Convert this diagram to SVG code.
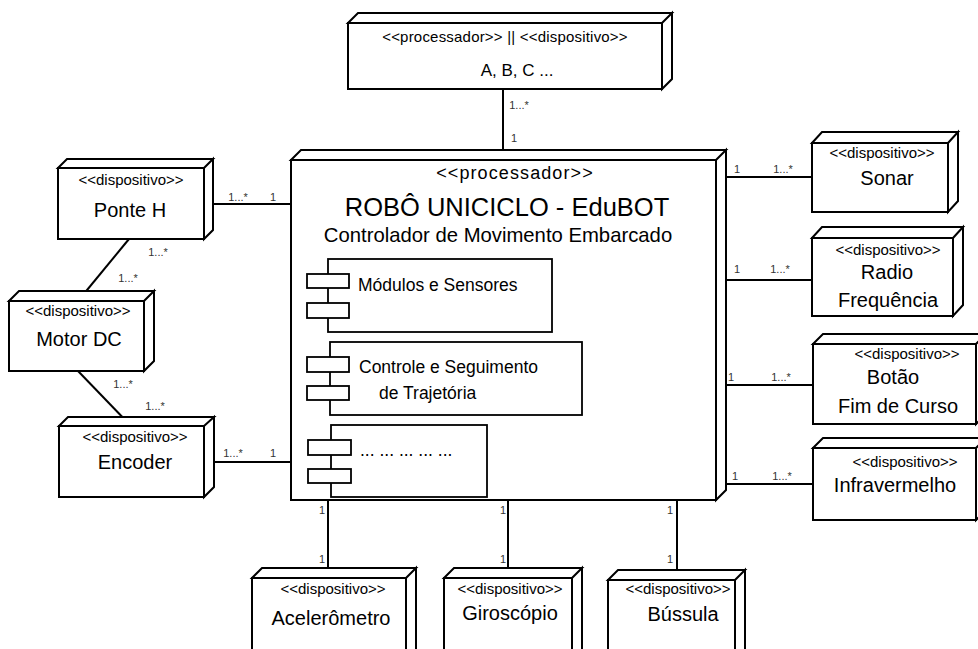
<svg xmlns="http://www.w3.org/2000/svg" width="978" height="649" viewBox="0 0 978 649">
  <style>
    .node { fill: #fff; stroke: #000; stroke-width: 2; stroke-linejoin: miter; }
    .comp { fill: #fff; stroke: #000; stroke-width: 1.8; }
    .edge { stroke: #000; stroke-width: 2; fill: none; }
    text { font-family: "Liberation Sans", Arial, Helvetica, sans-serif; fill: #000; }
    .st { font-size: 15px; text-anchor: middle; }
    .nm { font-size: 20px; text-anchor: middle; }
    .mul { font-size: 11px; fill: #333; text-anchor: middle; }
    .ct { font-size: 17.5px; }
  </style>

  <rect width="978" height="649" fill="#fff"/>

  <!-- connectors -->
  <g id="connectors">
    <line class="edge" x1="503" y1="89" x2="503" y2="160"/>
    <line class="edge" x1="204" y1="204" x2="291" y2="204"/>
    <line class="edge" x1="129" y1="239" x2="78" y2="301"/>
    <line class="edge" x1="78" y1="371" x2="131" y2="426"/>
    <line class="edge" x1="204" y1="462" x2="291" y2="462"/>
    <line class="edge" x1="716" y1="177" x2="812" y2="177"/>
    <line class="edge" x1="716" y1="280" x2="812" y2="280"/>
    <line class="edge" x1="716" y1="385" x2="813" y2="385"/>
    <line class="edge" x1="716" y1="484" x2="813" y2="484"/>
    <line class="edge" x1="328" y1="500" x2="328" y2="578"/>
    <line class="edge" x1="508" y1="500" x2="508" y2="578"/>
    <line class="edge" x1="677" y1="500" x2="677" y2="580"/>

    <!-- multiplicities -->
    <text class="mul" x="519" y="109">1...*</text>
    <text class="mul" x="514" y="142">1</text>
    <text class="mul" x="238" y="201">1...*</text>
    <text class="mul" x="273" y="201">1</text>
    <text class="mul" x="158" y="256">1...*</text>
    <text class="mul" x="128" y="282">1...*</text>
    <text class="mul" x="123" y="388">1...*</text>
    <text class="mul" x="155" y="410">1...*</text>
    <text class="mul" x="233" y="457">1...*</text>
    <text class="mul" x="273" y="457">1</text>
    <text class="mul" x="737" y="173">1</text>
    <text class="mul" x="783" y="173">1...*</text>
    <text class="mul" x="737" y="273">1</text>
    <text class="mul" x="780" y="273">1...*</text>
    <text class="mul" x="731" y="381">1</text>
    <text class="mul" x="781" y="381">1...*</text>
    <text class="mul" x="735" y="480">1</text>
    <text class="mul" x="782" y="480">1...*</text>
    <text class="mul" x="322" y="514">1</text>
    <text class="mul" x="322" y="563">1</text>
    <text class="mul" x="503" y="514">1</text>
    <text class="mul" x="503" y="563">1</text>
    <text class="mul" x="670" y="514">1</text>
    <text class="mul" x="670" y="563">1</text>
  </g>

  <!-- top processor/device node -->
  <g id="node-abc">
    <path class="node" d="M348,23 L358,13 L672,13 L662,23 Z M662,23 L672,13 L672,79 L662,89 Z"/>
    <rect class="node" x="348" y="23" width="314" height="66"/>
    <text class="st" x="505" y="42" letter-spacing="0.2">&lt;&lt;processador&gt;&gt; || &lt;&lt;dispositivo&gt;&gt;</text>
    <text x="517" y="76" font-size="17" text-anchor="middle">A, B, C ...</text>
  </g>

  <!-- main controller node -->
  <g id="node-edubot">
    <path class="node" d="M291,160 L301,150 L726,150 L716,160 Z M716,160 L726,150 L726,490 L716,500 Z"/>
    <rect class="node" x="291" y="160" width="425" height="340"/>
    <text x="515" y="179" font-size="18" text-anchor="middle" letter-spacing="1.1">&lt;&lt;processador&gt;&gt;</text>
    <text x="507" y="216" font-size="25.5" text-anchor="middle">ROBÔ UNICICLO - EduBOT</text>
    <text x="498" y="242" font-size="20.3" text-anchor="middle">Controlador de Movimento Embarcado</text>

    <g id="comp-modulos">
      <rect class="comp" x="328" y="259" width="224" height="73"/>
      <rect class="comp" x="307" y="274" width="42" height="14"/>
      <rect class="comp" x="307" y="303" width="42" height="15"/>
      <text class="ct" x="358" y="291">Módulos e Sensores</text>
    </g>
    <g id="comp-controle">
      <rect class="comp" x="330" y="342" width="252" height="73"/>
      <rect class="comp" x="307" y="357" width="42" height="15"/>
      <rect class="comp" x="307" y="386" width="42" height="14"/>
      <text class="ct" x="359" y="373">Controle e Seguimento</text>
      <text class="ct" x="379" y="399">de Trajetória</text>
    </g>
    <g id="comp-outros">
      <rect class="comp" x="331" y="425" width="156" height="72"/>
      <rect class="comp" x="308" y="440" width="43" height="15"/>
      <rect class="comp" x="308" y="469" width="43" height="14"/>
      <text class="ct" x="360" y="456">... ... ... ... ...</text>
    </g>
  </g>

  <!-- left devices -->
  <g id="node-ponteh">
    <path class="node" d="M58,168 L67,159 L213,159 L204,168 Z M204,168 L213,159 L213,230 L204,239 Z"/>
    <rect class="node" x="58" y="168" width="146" height="71"/>
    <text class="st" x="131" y="185">&lt;&lt;dispositivo&gt;&gt;</text>
    <text class="nm" x="130" y="217">Ponte H</text>
  </g>

  <g id="node-motordc">
    <path class="node" d="M9,301 L19,291 L154,291 L144,301 Z M144,301 L154,291 L154,361 L144,371 Z"/>
    <rect class="node" x="9" y="301" width="135" height="70"/>
    <text class="st" x="78" y="316">&lt;&lt;dispositivo&gt;&gt;</text>
    <text class="nm" x="79" y="346">Motor DC</text>
  </g>

  <g id="node-encoder">
    <path class="node" d="M59,426 L68,417 L214,417 L204,426 Z M204,426 L214,417 L214,487 L204,497 Z"/>
    <rect class="node" x="59" y="426" width="145" height="71"/>
    <text class="st" x="135" y="442">&lt;&lt;dispositivo&gt;&gt;</text>
    <text class="nm" x="135" y="469">Encoder</text>
  </g>

  <!-- right devices -->
  <g id="node-sonar">
    <path class="node" d="M812,143 L822,132 L958,132 L948,143 Z M948,143 L958,132 L958,201 L948,212 Z"/>
    <rect class="node" x="812" y="143" width="136" height="69"/>
    <text class="st" x="882" y="158">&lt;&lt;dispositivo&gt;&gt;</text>
    <text class="nm" x="887" y="185">Sonar</text>
  </g>

  <g id="node-radio">
    <path class="node" d="M812,238 L822,227 L963,227 L953,238 Z M953,238 L963,227 L963,305 L953,316 Z"/>
    <rect class="node" x="812" y="238" width="141" height="78"/>
    <text class="st" x="888" y="255">&lt;&lt;dispositivo&gt;&gt;</text>
    <text class="nm" x="887" y="279">Radio</text>
    <text class="nm" x="888" y="307">Frequência</text>
  </g>

  <g id="node-botao">
    <path class="node" d="M813,344 L823,334 L986,334 L976,344 Z M976,344 L986,334 L986,414 L976,424 Z"/>
    <rect class="node" x="813" y="344" width="163" height="80"/>
    <text class="st" x="907" y="359">&lt;&lt;dispositivo&gt;&gt;</text>
    <text class="nm" x="893" y="384">Botão</text>
    <text class="nm" x="898" y="413">Fim de Curso</text>
  </g>

  <g id="node-infra">
    <path class="node" d="M813,448 L823,438 L986,438 L976,448 Z M976,448 L986,438 L986,510 L976,520 Z"/>
    <rect class="node" x="813" y="448" width="163" height="72"/>
    <text class="st" x="905" y="467">&lt;&lt;dispositivo&gt;&gt;</text>
    <text class="nm" x="895" y="492">Infravermelho</text>
  </g>

  <!-- bottom devices -->
  <g id="node-acelerometro">
    <path class="node" d="M252,578 L262,568 L416,568 L406,578 Z M406,578 L416,568 L416,650 L406,660 Z"/>
    <rect class="node" x="252" y="578" width="154" height="82"/>
    <text class="st" x="333" y="594">&lt;&lt;dispositivo&gt;&gt;</text>
    <text class="nm" x="331" y="625">Acelerômetro</text>
  </g>

  <g id="node-giroscopio">
    <path class="node" d="M444,578 L454,568 L582,568 L572,578 Z M572,578 L582,568 L582,650 L572,660 Z"/>
    <rect class="node" x="444" y="578" width="128" height="82"/>
    <text class="st" x="510" y="594">&lt;&lt;dispositivo&gt;&gt;</text>
    <text class="nm" x="510" y="620">Giroscópio</text>
  </g>

  <g id="node-bussula">
    <path class="node" d="M608,580 L618,570 L745,570 L735,580 Z M735,580 L745,570 L745,650 L735,660 Z"/>
    <rect class="node" x="608" y="580" width="127" height="80"/>
    <text class="st" x="678" y="594">&lt;&lt;dispositivo&gt;&gt;</text>
    <text class="nm" x="683" y="621">Bússula</text>
  </g>
</svg>
